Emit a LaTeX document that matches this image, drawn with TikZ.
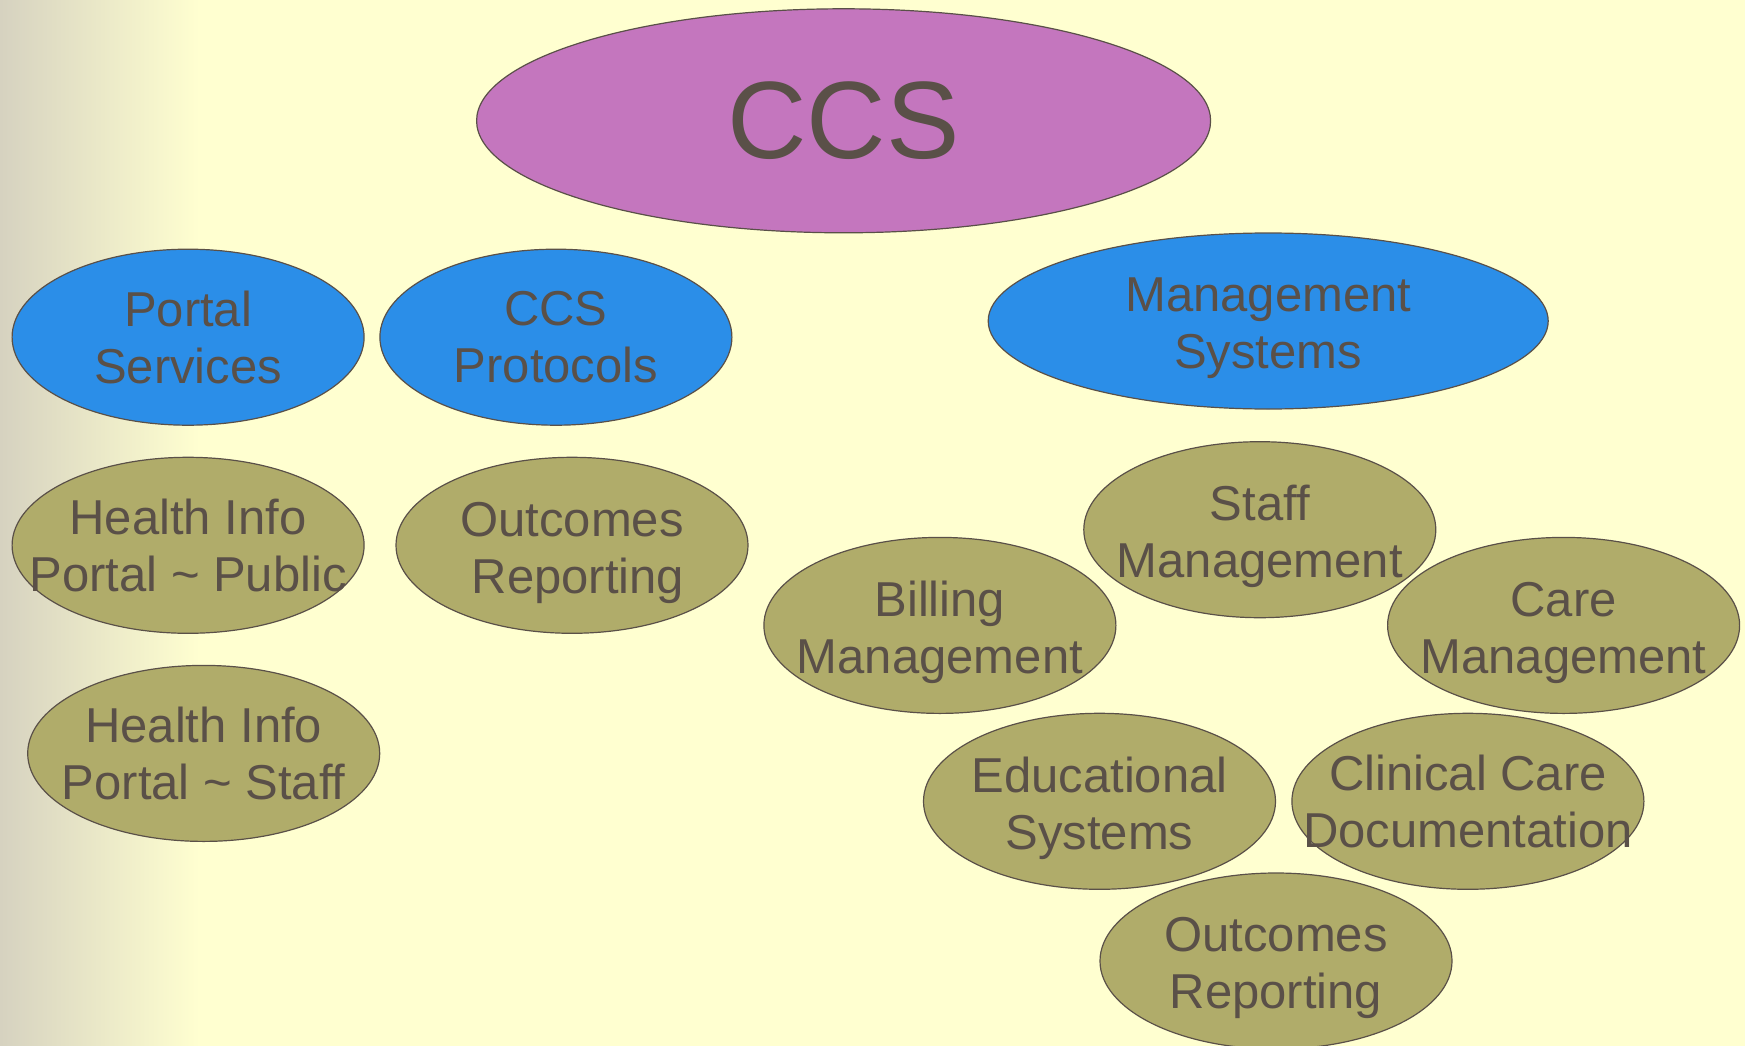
\documentclass[tikz,border=0pt]{standalone}
\usepackage{fontspec}
\setmainfont{Liberation Sans}
\usetikzlibrary{shapes.geometric}
\definecolor{paper}{RGB}{255, 255, 208}
\definecolor{paperedge}{RGB}{214, 210, 192}
\definecolor{ink}{RGB}{90, 80, 72}
\definecolor{topfill}{RGB}{196, 118, 190}
\definecolor{midfill}{RGB}{43, 142, 232}
\definecolor{leaffill}{RGB}{176, 172, 106}

\begin{document}
\begin{tikzpicture}[x=1pt, y=-1pt,
    bubble/.style={ellipse, draw=ink, line width=1.2pt, text=ink, inner xsep=-70pt, inner ysep=0pt,
        align=center, minimum width=352pt, minimum height=176pt, font=\fontsize{49}{57}\selectfont},
    topbubble/.style={bubble, fill=topfill, minimum width=734pt, minimum height=224pt,
        font=\fontsize{110}{114}\selectfont},
    midbubble/.style={bubble, fill=midfill},
    leafbubble/.style={bubble, fill=leaffill},
    sunk/.style={execute at begin node={\rule{0pt}{106pt}}}]
    % Page
    \useasboundingbox (0,0) rectangle (1745,1046);
    \clip (0,0) rectangle (1745,1046);
    \fill[paper] (0,0) rectangle (1745,1046);
    \shade[left color=paperedge, right color=paper] (0,0) rectangle (200,1046);

    % Top
    \node[topbubble] (ccs) at (843.6, 120.8) {CCS};

    % Second row
    \node[midbubble] (portal) at (188.1, 337.2) {Portal\\Services};
    \node[midbubble] (protocols) at (555.9, 337.2) {CCS\\Protocols};
    \node[midbubble, sunk, minimum width=560pt] (mgmt) at (1268.2, 321.0) {Management\\Systems};

    % Left leaves
    \node[leafbubble] (hipublic) at (188.1, 545.3) {Health Info\\Portal \textasciitilde{} Public};
    \node[leafbubble, sunk] (outleft) at (572.0, 545.3) {Outcomes\\\hspace*{12pt}Reporting};
    \node[leafbubble] (histaff) at (203.7, 753.4) {Health Info\\Portal \textasciitilde{} Staff};

    % Right leaves
    \node[leafbubble, sunk] (staff) at (1259.8, 529.7) {Staff\\Management};
    \node[leafbubble, sunk] (billing) at (939.9, 625.4) {Billing\\Management};
    \node[leafbubble, sunk] (care) at (1563.6, 625.4) {Care\\Management};
    \node[leafbubble, sunk] (edu) at (1099.5, 801.3) {Educational\\Systems};
    \node[leafbubble] (clinical) at (1467.9, 801.3) {Clinical Care\\Documentation};
    \node[leafbubble, sunk] (outbottom) at (1276.0, 961.0) {Outcomes\\Reporting};
\end{tikzpicture}
\end{document}
